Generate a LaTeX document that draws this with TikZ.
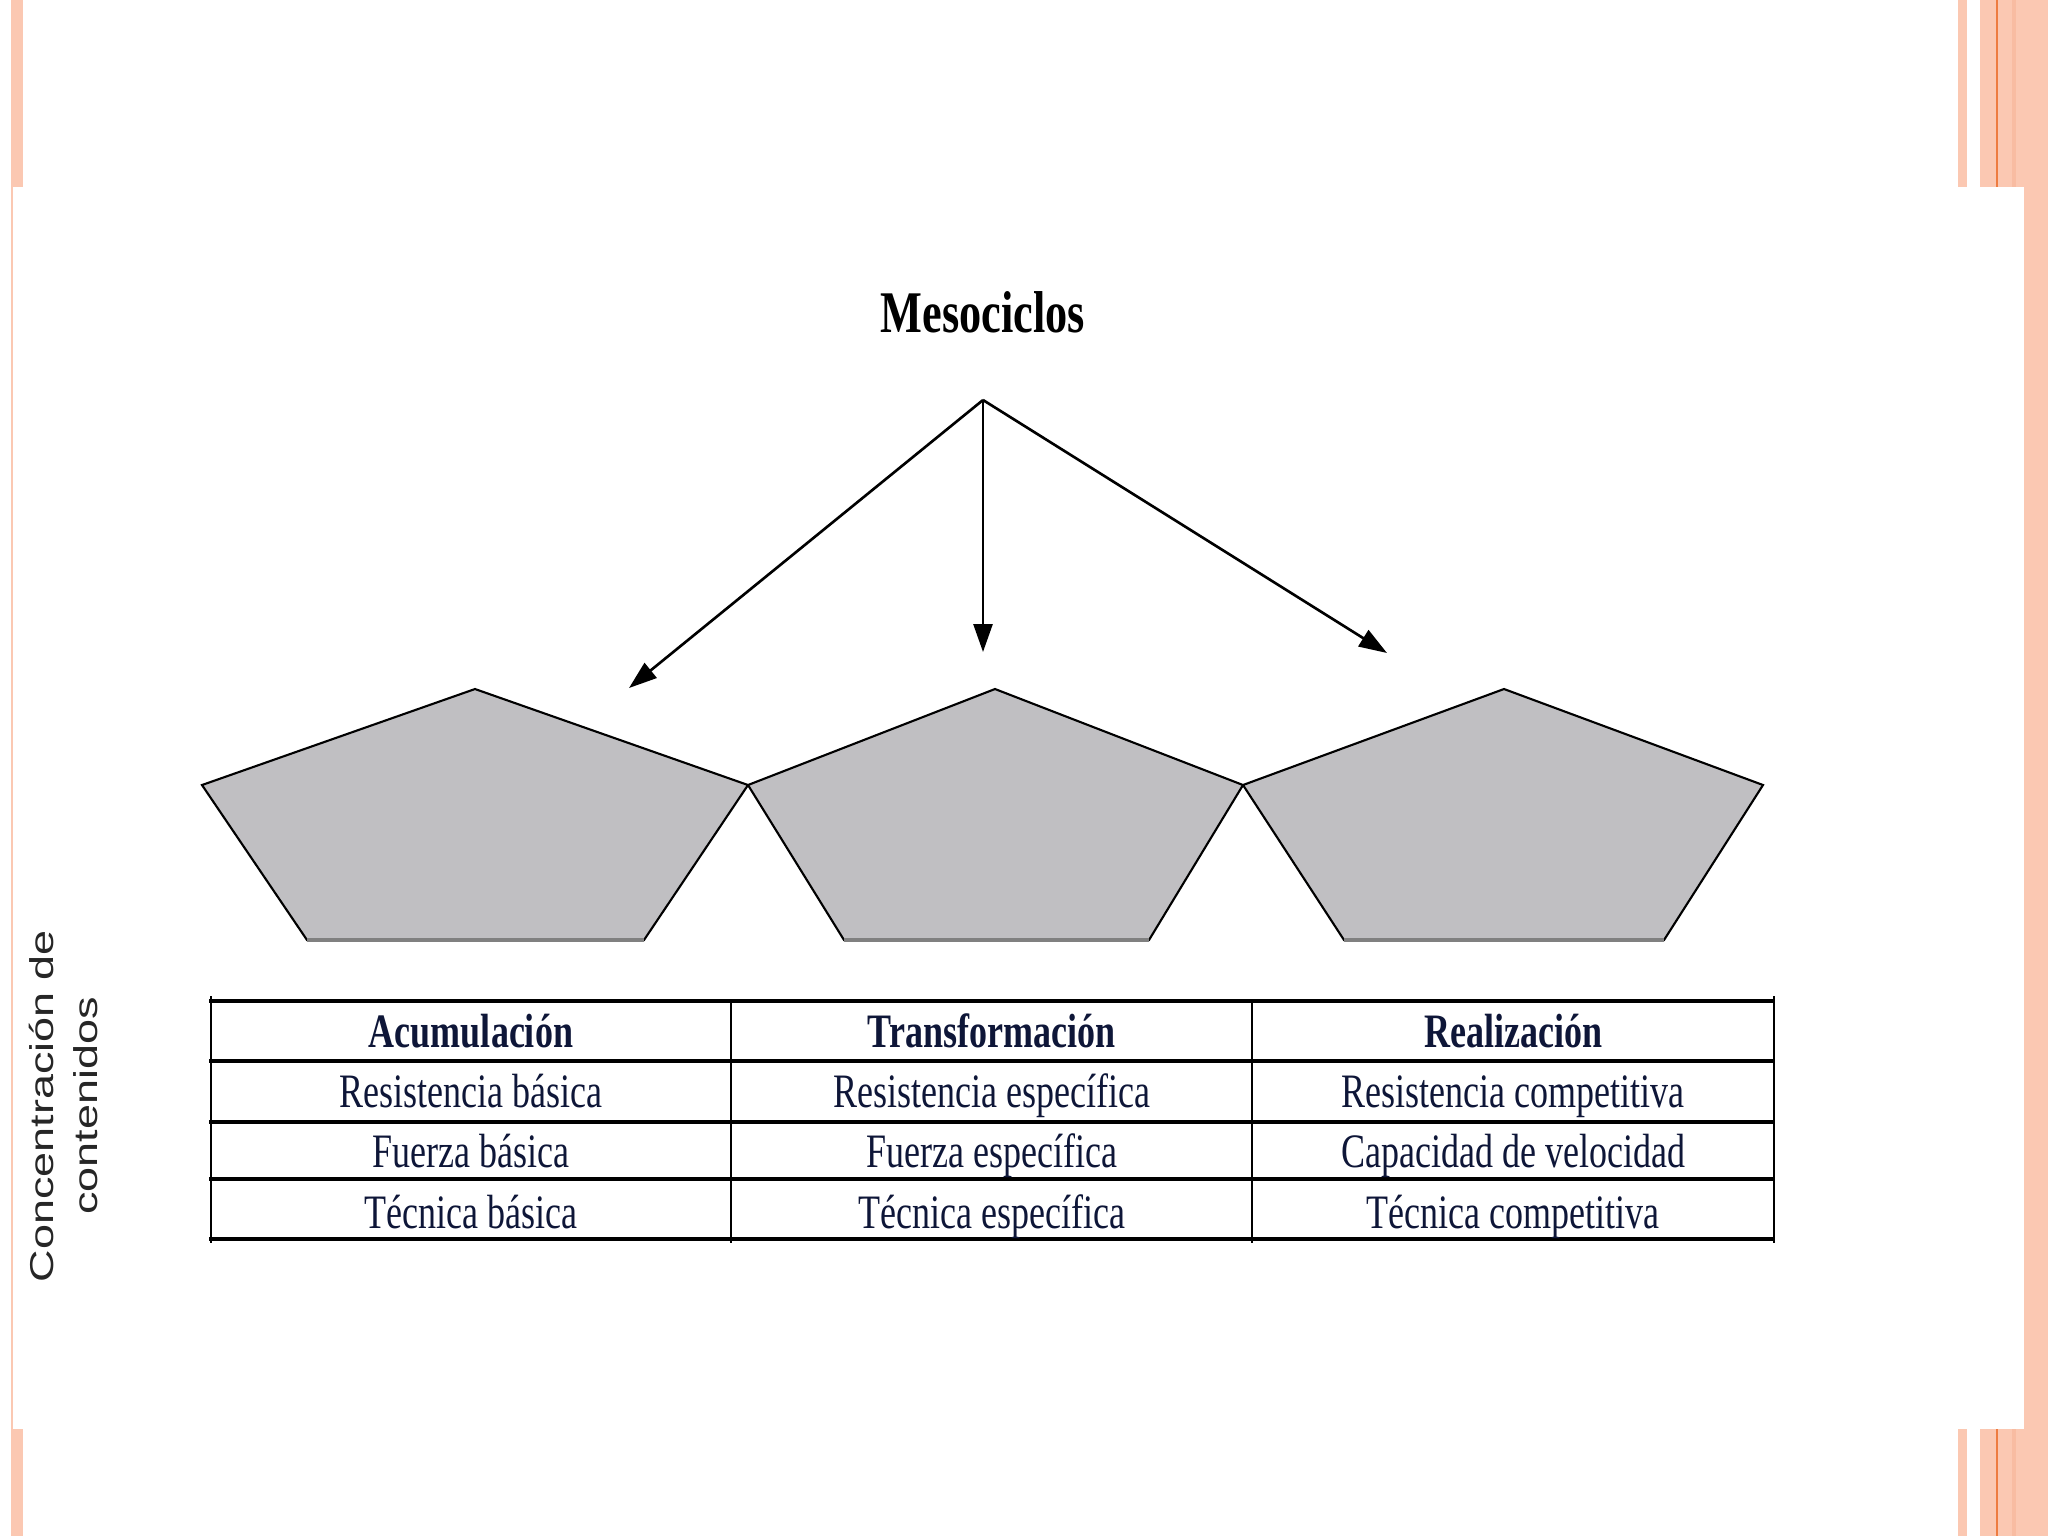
\documentclass[tikz,border=0pt]{standalone}
\usepackage{fontspec}
\usepackage{tikz}
\usetikzlibrary{arrows.meta}
\setmainfont{Liberation Serif}
\newfontfamily\MyNarrow[FakeStretch=0.75]{Liberation Serif}
\newfontfamily\MyWide[FakeStretch=1.36]{Liberation Sans}
\definecolor{bordersalmon}{HTML}{FBC8B2}
\definecolor{borderband}{HTML}{F8BCA2}
\definecolor{borderline}{HTML}{EE7C40}
\definecolor{pentagray}{HTML}{C0BFC2}
\definecolor{tabletext}{HTML}{0E1638}
\newcommand{\MyColA}{471}
\newcommand{\MyColB}{991.5}
\newcommand{\MyColC}{1513}

\begin{document}
\begin{tikzpicture}[x=0.1mm, y=-0.1mm,
  link/.style={line width=0.75pt, -{Triangle[length=2.8mm,width=1.9mm]}},
  penta/.style={fill=pentagray, draw=black, line width=0.6pt, line join=miter},
  pentabase/.style={draw=black!50, line width=1pt},
  rule/.style={line width=1pt},
  colrule/.style={line width=0.55pt},
  cell/.style={anchor=base, inner sep=0pt, text=tabletext, font=\MyNarrow\fontsize{13.66}{16}\selectfont},
  head/.style={cell, font=\MyNarrow\bfseries\fontsize{13.66}{16}\selectfont},
  side/.style={rotate=90, anchor=base, inner sep=0pt, text=black!85, font=\MyWide\fontsize{9.4}{11}\selectfont}]

\useasboundingbox (0,0) rectangle (2048,1536);
\fill[white] (0,0) rectangle (2048,1536);

% slide border
\fill[bordersalmon] (11,0) rectangle (23,187);
\fill[bordersalmon] (11,1429) rectangle (23,1536);
\fill[bordersalmon] (11,187) rectangle (13,1429);
\fill[bordersalmon] (2024,0) rectangle (2048,1536);
\fill[bordersalmon] (1958,0) rectangle (1967,187);
\fill[bordersalmon] (1980,0) rectangle (2024,187);
\fill[borderband] (2012,0) rectangle (2016,187);
\fill[borderline] (1996,0) rectangle (1998,187);
\fill[bordersalmon] (1958,1429) rectangle (1967,1536);
\fill[bordersalmon] (1980,1429) rectangle (2024,1536);
\fill[borderband] (2012,1429) rectangle (2016,1536);
\fill[borderline] (1996,1429) rectangle (1998,1536);

% title and arrows
\node[anchor=base, inner sep=0pt, font=\MyNarrow\bfseries\fontsize{16.8}{20}\selectfont] (title) at (983,332) {Mesociclos};
\coordinate (apex) at (983,400);
\coordinate (tipA) at (629,688);
\coordinate (tipB) at (983,652);
\coordinate (tipC) at (1387,653);
\draw[link] (apex) -- (tipA);
\draw[link] (apex) -- (tipB);
\draw[link] (apex) -- (tipC);

% pentagons
\filldraw[penta] (202,785) -- (475,689) -- (748,785) -- (644,940) -- (307,940) -- cycle;
\draw[pentabase] (307,940) -- (644,940);
\filldraw[penta] (748,785) -- (995,689) -- (1243,785) -- (1149,940) -- (844,940) -- cycle;
\draw[pentabase] (844,940) -- (1149,940);
\filldraw[penta] (1243,785) -- (1504,689) -- (1763,785) -- (1664,940) -- (1344,940) -- cycle;
\draw[pentabase] (1344,940) -- (1664,940);

% table
\draw[rule] (209,1001) -- (1775,1001);
\draw[rule] (209,1061) -- (1775,1061);
\draw[rule] (209,1122) -- (1775,1122);
\draw[rule] (209,1179) -- (1775,1179);
\draw[rule] (209,1239) -- (1775,1239);
\draw[colrule] (211,996) -- (211,1243);
\draw[colrule] (731,1001) -- (731,1243);
\draw[colrule] (1252,1001) -- (1252,1243);
\draw[colrule] (1774,996) -- (1774,1243);

\node[head] (acum) at (\MyColA,1047) {Acumulación};
\node[head] (trans) at (\MyColB,1047) {Transformación};
\node[head] (real) at (\MyColC,1047) {Realización};

\node[cell] (resA) at (\MyColA,1107) {Resistencia básica};
\node[cell] (resB) at (\MyColB,1107) {Resistencia específica};
\node[cell] (resC) at (\MyColC,1107) {Resistencia competitiva};

\node[cell] (fueA) at (\MyColA,1167) {Fuerza básica};
\node[cell] (fueB) at (\MyColB,1167) {Fuerza específica};
\node[cell] (capC) at (\MyColC,1167) {Capacidad de velocidad};

\node[cell] (tecA) at (\MyColA,1228) {Técnica básica};
\node[cell] (tecB) at (\MyColB,1228) {Técnica específica};
\node[cell] (tecC) at (\MyColC,1228) {Técnica competitiva};

% side label
\node[side] (conc) at (53,1106) {Concentración de};
\node[side] (cont) at (97,1106) {contenidos};

\end{tikzpicture}
\end{document}
